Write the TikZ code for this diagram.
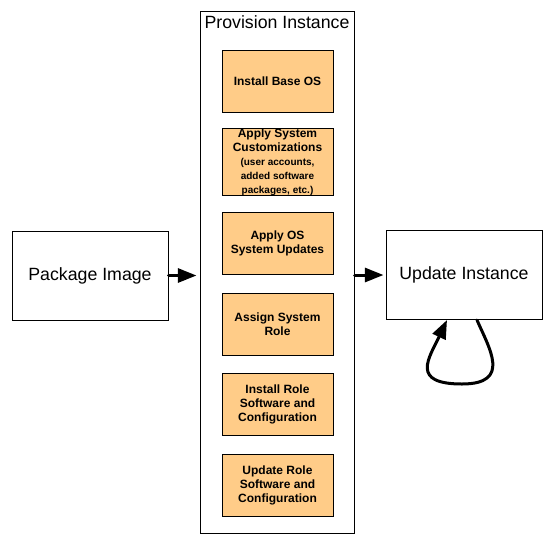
\documentclass[tikz,border=0pt]{standalone}
\usepackage{fontspec}
\setmainfont{Liberation Sans}
\usetikzlibrary{arrows.meta}
\newcommand{\smallnote}{\fontsize{7.5}{8.6}\selectfont}
\tikzset{
  stepbox/.style={draw, line width=0.75pt, fill={rgb,255:red,255;green,204;blue,136},
    minimum width=83.25pt, minimum height=46.5pt, inner sep=0pt, align=center,
    font=\fontsize{9}{10.5}\selectfont\bfseries},
  bigbox/.style={draw, line width=0.75pt, minimum width=117pt, minimum height=66.75pt,
    font=\fontsize{13.3}{16}\selectfont},
  thickarrow/.style={line width=2.25pt, line cap=round, -{Triangle[length=14pt,width=10.5pt]}}
}
\begin{document}
\begin{tikzpicture}[x=0.75pt,y=0.75pt,yscale=-1,xscale=1]
\useasboundingbox (0,0) rectangle (553,544);

%Shape: Rectangle
\node[draw, line width=0.75pt, minimum width=115.5pt, minimum height=391.5pt] (outer) at (277,272) {};
% Text Node
\node[anchor=north, inner sep=1pt, font=\fontsize{13.3}{16}\selectfont] (title) at ([yshift=2.5pt]outer.north) {Provision Instance};

%Shape: Rectangle
\node[stepbox] (baseos) at (277.5,81) {Install Base OS};
%Shape: Rectangle
\node[stepbox] (custom) at (277.5,162) {Apply System\\Customizations\\
  \smallnote(user accounts,\\\smallnote added software\\\smallnote packages, etc.)};
%Shape: Rectangle
\node[stepbox] (osupd) at (277.5,243) {Apply OS\\System Updates};
%Shape: Rectangle
\node[stepbox] (role) at (277.5,324) {Assign System\\Role};
%Shape: Rectangle
\node[stepbox] (rolesw) at (277.5,404.5) {Install Role\\Software and\\Configuration};
%Shape: Rectangle
\node[stepbox] (roleupd) at (277.5,485.5) {Update Role\\Software and\\Configuration};

%Shape: Rectangle
\node[bigbox] (pkg) at (90,275.5) {Package Image};
%Shape: Rectangle
\node[bigbox] (upd) at (464,275) {Update Instance};

%Straight Lines
\draw[thickarrow, shorten >=2.25pt] (pkg.east) -- (pkg.east -| outer.west);
%Straight Lines
\draw[thickarrow, shorten >=1.5pt] (upd.west -| outer.east) -- (upd.west);

%Curve Lines
\coordinate (loopbot) at (462,384);
\draw[thickarrow] ([xshift=9.75pt]upd.south) .. controls +(12,28) and +(50,0) .. (loopbot)
  .. controls +(-52,0) and +(-18,38) .. ([xshift=-12.75pt]upd.south);
\end{tikzpicture}
\end{document}
